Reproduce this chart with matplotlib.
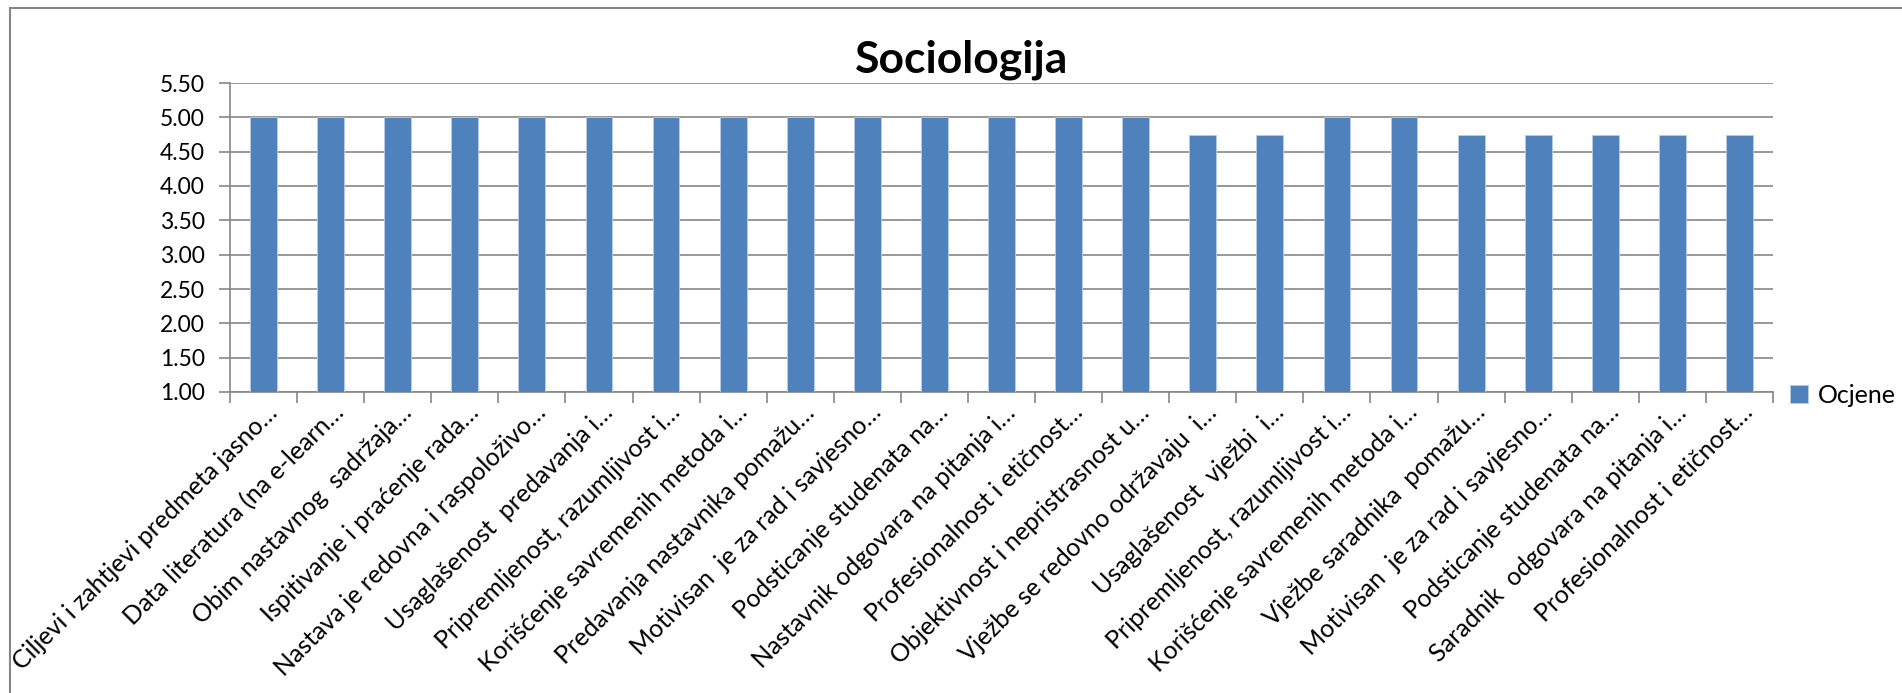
import matplotlib.pyplot as plt
from matplotlib.patches import Rectangle
from matplotlib.transforms import ScaledTranslation

plt.rcParams['font.family'] = ['Lato', 'DejaVu Sans']

categories = [
    'Ciljevi i zahtjevi predmeta jasno…',
    'Data literatura (na e-learn…',
    'Obim nastavnog  sadržaja…',
    'Ispitivanje i praćenje rada…',
    'Nastava je redovna i raspoloživo…',
    'Usaglašenost  predavanja i…',
    'Pripremljenost, razumljivost i…',
    'Korišćenje savremenih metoda i…',
    'Predavanja nastavnika pomažu…',
    'Motivisan  je za rad i savjesno…',
    'Podsticanje studenata na…',
    'Nastavnik odgovara na pitanja i…',
    'Profesionalnost i etičnost…',
    'Objektivnost i nepristrasnost u…',
    'Vježbe se redovno održavaju  i…',
    'Usaglašenost  vježbi  i…',
    'Pripremljenost, razumljivost i…',
    'Korišćenje savremenih metoda i…',
    'Vježbe saradnika  pomažu…',
    'Motivisan  je za rad i savjesno…',
    'Podsticanje studenata na…',
    'Saradnik  odgovara na pitanja i…',
    'Profesionalnost i etičnost…',
]
ocjene = [5.00, 5.00, 5.00, 5.00, 5.00, 5.00, 5.00, 5.00, 5.00, 5.00, 5.00, 5.00,
          5.00, 5.00, 4.75, 4.75, 5.00, 5.00, 4.75, 4.75, 4.75, 4.75, 4.75]
yticks = [1.00, 1.50, 2.00, 2.50, 3.00, 3.50, 4.00, 4.50, 5.00, 5.50]

W, H = 1902, 693
fig = plt.figure(figsize=(W / 100, H / 100), dpi=100)
ax = fig.add_axes([230 / W, 1 - 392 / H, (1773 - 230) / W, (392 - 83) / H])

grey = '#868686'
x = list(range(len(categories)))
ax.bar(x, ocjene, width=0.4, color='#4F81BD', edgecolor='#B9CDE5', linewidth=0.6,
       label='Ocjene', zorder=3)

ax.set_xlim(-0.5, len(categories) - 0.5)
ax.set_ylim(1.0, 5.5)
ax.set_yticks(yticks)
ax.set_yticklabels([f'{v:.2f}' for v in yticks], fontsize=16.5)
ax.yaxis.grid(True, color=grey, linewidth=1.2, zorder=0)
ax.tick_params(axis='y', length=8, width=1.2, color=grey, pad=10)

# category labels at centres, tick marks between categories
ax.set_xticks(x)
ax.set_xticklabels(categories, rotation=45, ha='right', va='center',
                   rotation_mode='anchor', fontsize=18)
ax.tick_params(axis='x', which='major', length=0, pad=12)
shift = ScaledTranslation(10 / 100, 0, fig.dpi_scale_trans)
for lab in ax.get_xticklabels():
    lab.set_transform(lab.get_transform() + shift)
ax.set_xticks([i - 0.5 for i in range(len(categories) + 1)], minor=True)
ax.tick_params(axis='x', which='minor', length=8, width=1.2, color=grey)

for s in ['top', 'right']:
    ax.spines[s].set_visible(False)
for s in ['left', 'bottom']:
    ax.spines[s].set_color(grey)
    ax.spines[s].set_linewidth(1.2)

fig.text(962 / W, 1 - 60 / H, 'Sociologija', ha='center', va='center',
         fontsize=32, fontweight='bold')

fig.legend(loc='center left', bbox_to_anchor=(1790 / W, 1 - 395 / H), frameon=False,
           fontsize=18, handlelength=0.7, handleheight=0.7, handletextpad=0.4,
           borderpad=0, borderaxespad=0)

# chart area border (cropped on the right and bottom)
fig.patches.append(Rectangle((10 / W, -0.1), 1.2, 1 - 8 / H + 0.1, transform=fig.transFigure,
                             fill=False, edgecolor=grey, linewidth=1.5))

fig.savefig('out.png', dpi=100)
